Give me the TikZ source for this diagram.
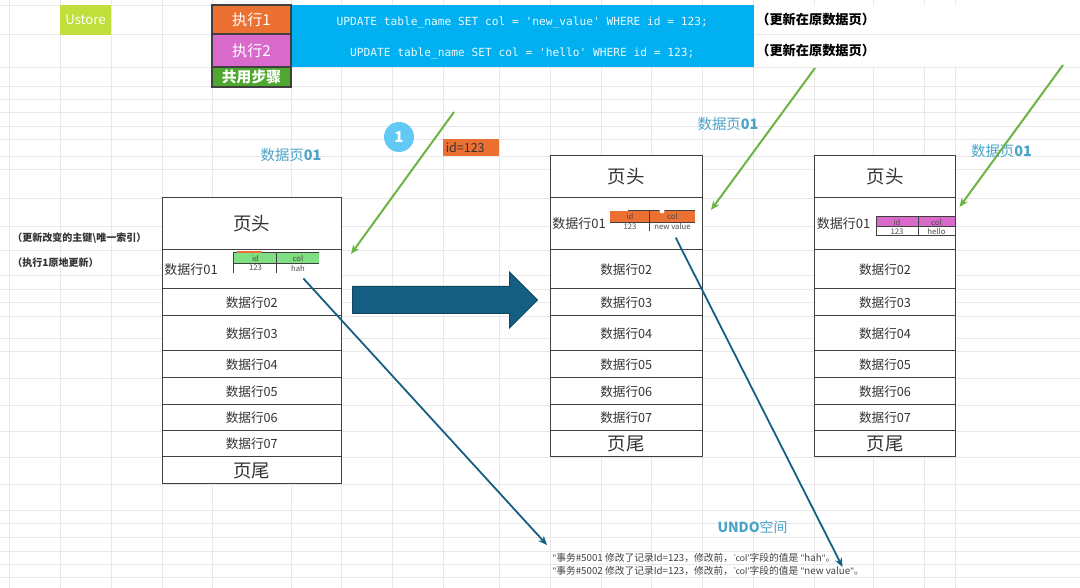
\documentclass[tikz,border=0pt]{standalone}
\usepackage{fontspec}
\setmainfont{Noto Sans CJK SC}
\setmonofont{DejaVu Sans Mono}
\newfontfamily\undolatin{Carlito}
\newcommand{\uq}{{\undolatin"}}
\usetikzlibrary{arrows.meta, positioning, shapes.arrows}
\definecolor{GridG}{RGB}{232,232,232}
\definecolor{DG}{RGB}{64,64,64}
\definecolor{Lime}{RGB}{192,223,58}
\definecolor{Ora}{RGB}{237,112,51}
\definecolor{Pur}{RGB}{217,106,203}
\definecolor{Grn}{RGB}{78,167,46}
\definecolor{Sky}{RGB}{0,176,240}
\definecolor{Mint}{RGB}{127,223,130}
\definecolor{Arr}{RGB}{106,180,69}
\definecolor{Teal}{RGB}{21,96,130}
\definecolor{Lbl}{RGB}{75,163,199}
\definecolor{Bub}{RGB}{98,201,245}

\begin{document}
\begin{tikzpicture}[
  gridline/.style={draw=GridG, line width=0.016cm},
  headbox/.style={draw=DG, line width=0.024cm, text=white, inner sep=0pt,
                  minimum width=1.58cm, font=\fontsize{8.6}{9}\selectfont},
  sqlbox/.style={fill=Sky, inner sep=0pt, minimum width=9.25cm, text height=0.24cm, text depth=0pt,
                 text=white!92!Sky, font=\ttfamily\fontsize{6.38}{7}\selectfont},
  pagerow/.style={draw=DG, line width=0.02cm, fill=white, inner sep=0pt,
                  font=\fontsize{7.2}{8}\selectfont, text=black!80},
  pagebig/.style={font=\fontsize{10.5}{11}\selectfont, text=black!80, inner sep=0pt},
  rowlabel/.style={font=\fontsize{7.4}{8}\selectfont, text=black!80, inner sep=0pt},
  tabcell/.style={inner sep=0pt, text=black!70, font=\fontsize{4.4}{5}\selectfont},
  tabline/.style={draw=DG, line width=0.022cm},
  pagelabel/.style={text=Lbl, inner sep=0pt, font=\fontsize{8.2}{9}\selectfont},
  notelabel/.style={anchor=west, inner sep=0pt, font=\bfseries\fontsize{7.5}{8}\selectfont},
  sidelabel/.style={anchor=west, inner sep=0pt, text=black!80, font=\bfseries\fontsize{5.7}{6}\selectfont},
  undotext/.style={anchor=west, inner sep=0pt, text=black!75, font=\fontsize{5.55}{6}\selectfont},
  greenarrow/.style={draw=Arr, line width=0.04cm, -{Stealth[length=0.18cm,width=0.15cm]}},
  undoarrow/.style={draw=Teal, line width=0.036cm, -{Stealth[length=0.18cm,width=0.15cm]}}
]
\useasboundingbox (0,0) rectangle (21.6,11.76);

% sheet grid
\foreach \gx in {0.186,1.20,2.22,3.24,4.24,5.82,6.83,7.85,8.86,9.98,11.00,12.02,13.02,14.05,15.07,16.29,17.46,18.48,19.11}
  \draw[gridline] (\gx,0) -- (\gx,11.76);
\foreach \gy in {11.66,11.08,10.42,10.04,9.78,9.52,9.24,8.98,8.64,8.38,7.80,7.24,6.76,6.26,5.98,5.72,5.44,5.00,4.74,4.20,3.66,3.14,2.62,2.08,1.56,1.30,1.02,0.74,0.48,0.22}
  \draw[gridline] (0,\gy) -- (21.6,\gy);
\fill[white] (15.07,10.42) rectangle (21.6,11.66);
\draw[gridline] (15.07,11.08) -- (21.6,11.08);

% top band
\node[fill=Lime, text=white, inner sep=0pt, minimum width=1.02cm, minimum height=0.60cm,
      font=\fontsize{7.5}{8}\selectfont] (ustore) at (1.71,11.36) {Ustore};
\node[sqlbox, minimum height=0.58cm] (sql1) at (10.445,11.37) {UPDATE table\_name SET col = 'new\_value' WHERE id = 123;};
\node[sqlbox, minimum height=0.66cm] (sql2) at (10.445,10.75) {UPDATE table\_name SET col = 'hello' WHERE id = 123;};
\node[headbox, fill=Ora, minimum height=0.58cm] (exec1) at (5.03,11.37) {执行1};
\node[headbox, fill=Pur, minimum height=0.66cm] (exec2) at (5.03,10.75) {执行2};
\node[headbox, fill=Grn, minimum height=0.40cm, font=\bfseries\fontsize{8.4}{9}\selectfont] (common) at (5.03,10.22) {共用步骤};
\node[notelabel] (note1) at (15.12,11.36) {（更新在原数据页）};
\node[notelabel] (note2) at (15.12,10.74) {（更新在原数据页）};

% page A
\foreach \name/\y/\h/\txt in {0/7.28/1.05/, 1/6.37/0.78/, 2/5.71/0.54/数据行02, 3/5.09/0.70/数据行03, 4/4.47/0.54/数据行04, 5/3.93/0.54/数据行05, 6/3.40/0.52/数据行06, 7/2.88/0.52/数据行07, 8/2.35/0.54/}
  \node[pagerow, minimum width=3.59cm, minimum height=\h cm] (A\name) at (5.035,\y) {\txt};
% page B
\foreach \name/\y/\h/\txt in {0/8.22/0.84/, 1/7.28/1.04/, 2/6.37/0.78/数据行02, 3/5.71/0.54/数据行03, 4/5.09/0.70/数据行04, 5/4.47/0.54/数据行05, 6/3.93/0.54/数据行06, 7/3.40/0.52/数据行07, 8/2.88/0.52/}
  \node[pagerow, minimum width=3.05cm, minimum height=\h cm] (B\name) at (12.525,\y) {\txt};
% page C
\foreach \name/\y/\h/\txt in {0/8.22/0.84/, 1/7.28/1.04/, 2/6.37/0.78/数据行02, 3/5.71/0.54/数据行03, 4/5.09/0.70/数据行04, 5/4.47/0.54/数据行05, 6/3.93/0.54/数据行06, 7/3.40/0.52/数据行07, 8/2.88/0.52/}
  \node[pagerow, minimum width=2.82cm, minimum height=\h cm] (C\name) at (17.70,\y) {\txt};

\node[pagebig] (Ahead) at (A0) {页头};
\node[pagebig] (Afoot) at (A8) {页尾};
\node[pagebig] (Bhead) at (B0) {页头};
\node[pagebig] (Bfoot) at (B8) {页尾};
\node[pagebig] (Chead) at (C0) {页头};
\node[pagebig] (Cfoot) at (C8) {页尾};
\node[rowlabel, right=0.05cm of A1.west] (Arow) {数据行01};
\node[rowlabel, right=0.05cm of B1.west] (Brow) {数据行01};
\node[rowlabel, right=0.05cm of C1.west] (Crow) {数据行01};

% row tables
\node[tabcell, fill=Mint, minimum width=0.86cm, minimum height=0.22cm] (Aid) at (5.11,6.60) {id};
\node[tabcell, fill=Mint, minimum width=0.84cm, minimum height=0.22cm] (Acol) at (5.96,6.60) {col};
\node[tabcell, minimum width=0.86cm, minimum height=0.17cm] (Akey) at (5.11,6.40) {123};
\node[tabcell, minimum width=0.84cm, minimum height=0.17cm] (Aval) at (5.96,6.40) {hah};
\draw[tabline] (Aid.north west) -- (Acol.north east) (Aid.south west) -- (Acol.south east);
\draw[tabline] (Aid.north west) -- (Akey.south west) (Acol.north west) -- (Aval.south west);
\draw[Ora, line width=0.03cm] (4.74,6.72) -- (5.24,6.72);

\node[tabcell, fill=Ora, minimum width=0.80cm, minimum height=0.22cm] (Bid) at (12.60,7.43) {id};
\node[tabcell, fill=Ora, minimum width=0.90cm, minimum height=0.22cm] (Bcol) at (13.45,7.43) {col};
\node[tabcell, minimum width=0.80cm, minimum height=0.18cm] (Bkey) at (12.60,7.23) {123};
\node[tabcell, minimum width=0.90cm, minimum height=0.18cm] (Bval) at (13.45,7.23) {new value};
\draw[tabline] (Bid.south west) -- (Bcol.south east) (Bcol.north west) -- (Bval.south west);
\draw[draw=DG, line width=0.02cm] (12.55,7.54) -- (13.90,7.54);
\fill[white] (13.24,7.54) circle (0.05cm);

\node[tabcell, fill=Pur, draw=DG, line width=0.02cm, minimum width=0.84cm, minimum height=0.20cm] (Cid) at (17.94,7.32) {id};
\node[tabcell, fill=Pur, draw=DG, line width=0.02cm, minimum width=0.74cm, minimum height=0.20cm] (Ccol) at (18.73,7.32) {col};
\node[tabcell, fill=white, draw=DG, line width=0.02cm, minimum width=0.84cm, minimum height=0.18cm] (Ckey) at (17.94,7.13) {123};
\node[tabcell, fill=white, draw=DG, line width=0.02cm, minimum width=0.74cm, minimum height=0.18cm] (Cval) at (18.73,7.13) {hello};

% labels
\node[sidelabel] (side1) at (0.24,7.00) {（更新改变的主键\textbackslash 唯一索引）};
\node[sidelabel] (side2) at (0.24,6.50) {（执行1原地更新）};
\node[pagelabel] (pageA) at (5.82,8.66) {数据页\textbf{01}};
\node[pagelabel] (pageB) at (14.56,9.28) {数据页\textbf{01}};
\node[pagelabel] (pageC) at (20.03,8.74) {数据页\textbf{01}};
\node[pagelabel, font=\fontsize{7.9}{9}\selectfont] (undo) at (15.05,1.22) {\textbf{UNDO}空间};
\node[circle, fill=Bub, text=white, inner sep=0pt, minimum size=0.60cm,
      font=\bfseries\fontsize{8.5}{9}\selectfont] (stepone) at (7.98,9.02) {1};
\node[fill=Ora, text=black!80, inner xsep=0.065cm, inner ysep=0pt, text width=1.00cm, align=left,
      minimum height=0.34cm, font=\fontsize{7.1}{8}\selectfont] (idtag) at (9.415,8.81) {id=123};
\node[undotext] (undoA) at (11.04,0.60) {\uq 事务\#5001 修改了记录Id=123，修改前，{\undolatin `col'}字段的值是 \uq hah\uq 。};
\node[undotext] (undoB) at (11.04,0.34) {\uq 事务\#5002 修改了记录Id=123，修改前，{\undolatin `col'}字段的值是 \uq new value\uq 。};

% big arrow
\node[single arrow, single arrow head extend=0.29cm, fill=Teal, draw=Teal!75!black, line width=0.02cm,
      minimum height=3.70cm, minimum width=1.10cm, inner sep=0pt, anchor=tail] (bigarrow) at (7.04,5.76) {\rule{0pt}{0.52cm}};

% connectors
\coordinate (greenA0) at (9.08,9.52);
\coordinate (greenA1) at (7.02,6.68);
\coordinate (greenB0) at (16.30,10.40);
\coordinate (greenB1) at (14.22,7.56);
\coordinate (greenC0) at (21.26,10.46);
\coordinate (greenC1) at (19.19,7.62);
\coordinate (undoA1) at (10.94,0.86);
\coordinate (undoB1) at (16.85,0.42);
\draw[greenarrow] (greenA0) -- (greenA1);
\draw[greenarrow] (greenB0) -- (greenB1);
\draw[greenarrow] (greenC0) -- (greenC1);
\draw[undoarrow, shorten <=0.16cm] (Aval.south) -- (undoA1);
\draw[undoarrow, shorten <=0.14cm] (Bval.south) -- (undoB1);
\end{tikzpicture}
\end{document}
